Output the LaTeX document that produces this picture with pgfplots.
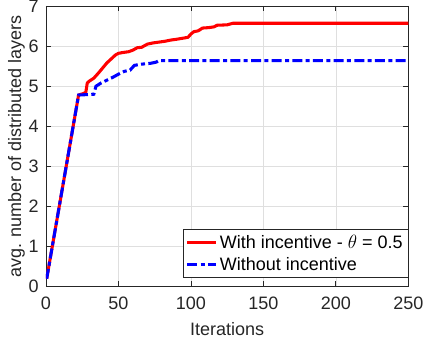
\documentclass[border=0pt]{standalone}
\usepackage{pgfplots}
\pgfplotsset{compat=1.18}
\usepackage{fontspec}
\setmainfont{Liberation Sans}
\definecolor{axgray}{RGB}{38,38,38}
\definecolor{gridgray}{RGB}{223,223,223}
\begin{document}
\begin{tikzpicture}
\begin{axis}[
  name=ax,
  scale only axis,
  width=272pt, height=210.75pt,
  xmin=0, xmax=250, ymin=0, ymax=7,
  xtick={0,50,100,150,200,250},
  ytick={0,1,2,3,4,5,6,7},
  /pgf/number format/assume math mode=true,
  tick label style={font=\fontsize{13.5}{15}\selectfont, text=axgray},
  label style={font=\fontsize{13.5}{15}\selectfont, text=axgray},
  yticklabel style={xshift=-2pt},
  xticklabel style={yshift=-4pt},
  xlabel={Iterations},
  xlabel style={yshift=-3pt},
  ylabel={avg. number of distributed layers},
  ylabel style={yshift=-4pt},
  grid=major,
  major grid style={gridgray, line width=0.5pt},
  axis line style={axgray, line width=0.6pt},
  tick style={axgray, line width=0.6pt},
  tick align=inside,
  major tick length=4pt,
  xtick pos=both, ytick pos=both,
  legend style={at={(1,0.032)}, anchor=south east, draw=axgray, line width=0.6pt,
    font=\fontsize{13.5}{15}\selectfont, inner sep=2pt, row sep=1pt},
  legend cell align=left,
  legend image code/.code={\draw[#1] (0cm,0cm) -- (0.75cm,0cm);},
]
\addplot[red, line width=2.3pt, line join=round] coordinates {
(0.5,0.2) (22.5,4.78) (26,4.82) (27.5,4.85) (28.5,5.08) (30,5.13) (33,5.2) (36,5.32) (39,5.45) (42,5.58) (45,5.68) (48,5.78) (50,5.82) (53,5.84) (57,5.86) (60,5.9) (63,5.96) (66,5.97) (70,6.05) (74,6.08) (78,6.1) (82,6.12) (86,6.15) (90,6.17) (95,6.2) (98,6.22) (100,6.3) (102,6.36) (105,6.38) (108,6.45) (112,6.46) (116,6.48) (118,6.52) (125,6.53) (129,6.57) (250,6.57)
};
\addlegendentry{With incentive - $\theta$ = 0.5}
\addplot[blue, line width=2.3pt, dash pattern=on 7.5pt off 2.5pt on 3pt off 2.5pt] coordinates {
(0.5,0.2) (22.5,4.78) (33,4.8) (34.5,5.0) (38,5.08) (42,5.15) (46,5.22) (50,5.3) (54,5.37) (58,5.4) (61,5.52) (66,5.55) (72,5.57) (76,5.6) (78,5.64) (250,5.64)
};
\addlegendentry{Without incentive}
\end{axis}
\pgfresetboundingbox
\path[use as bounding box] ([xshift=-34.5pt,yshift=-42pt]ax.south west) rectangle ([xshift=12.5pt,yshift=4.5pt]ax.north east);
\end{tikzpicture}
\end{document}
